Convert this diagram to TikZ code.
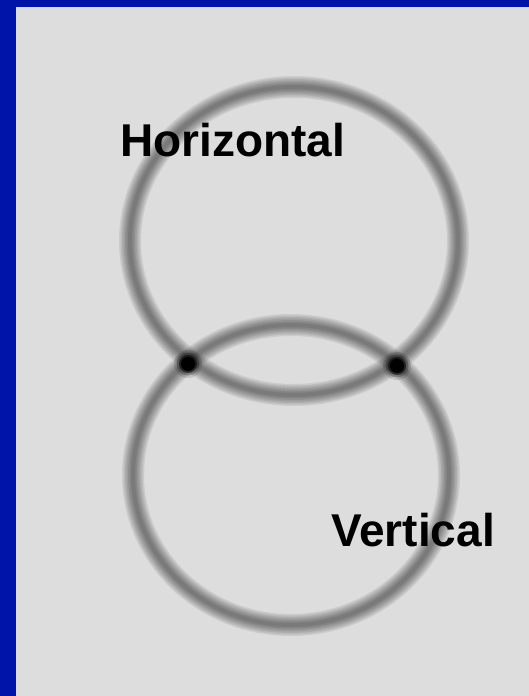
\documentclass[tikz,border=0pt]{standalone}
\usepackage{fontspec}
\setsansfont{Liberation Sans}
\usepackage{xcolor}
\usepackage{tikz}

\definecolor{frameblue}{RGB}{0,20,170}
\definecolor{plategray}{RGB}{221,221,221}

\begin{document}
\begin{tikzpicture}[
		x=1pt, y=-1pt,
		ringname/.style={font=\fontsize{46}{46}\selectfont\sffamily\bfseries, inner sep=0pt, anchor=base west},
		spot/.style={circle, inner sep=0pt, minimum size=#1, fill=black}
	]
		\useasboundingbox (0,0) rectangle (529,696);
		% frame and film
		\fill[frameblue] (0,0) rectangle (529,696);
		\fill[plategray] (16,7) rectangle (529,696);

		% blurred rings, drawn as stacked strokes
		\foreach \w in {22,19,16,13,10,7,4} {
			\draw[line width=\w, draw opacity=0.08] (294,241) ellipse [x radius=164, y radius=154];
			\draw[line width=\w, draw opacity=0.08] (291,475) ellipse [x radius=158, y radius=150];
		}

		% crossing spots
		\coordinate (leftcross) at (188,364);
		\coordinate (rightcross) at (397,366);
		\foreach \c in {leftcross, rightcross} {
			\node[spot=28pt, opacity=0.12] at (\c) {};
			\node[spot=23pt, opacity=0.25] at (\c) {};
			\node[spot=18pt, opacity=0.55] at (\c) {};
			\node[spot=14pt] at (\c) {};
		}

		\node[ringname] (horizontal) at (120,156) {Horizontal};
		\node[ringname] (vertical) at (331,546) {Vertical};
	\end{tikzpicture}
\end{document}
